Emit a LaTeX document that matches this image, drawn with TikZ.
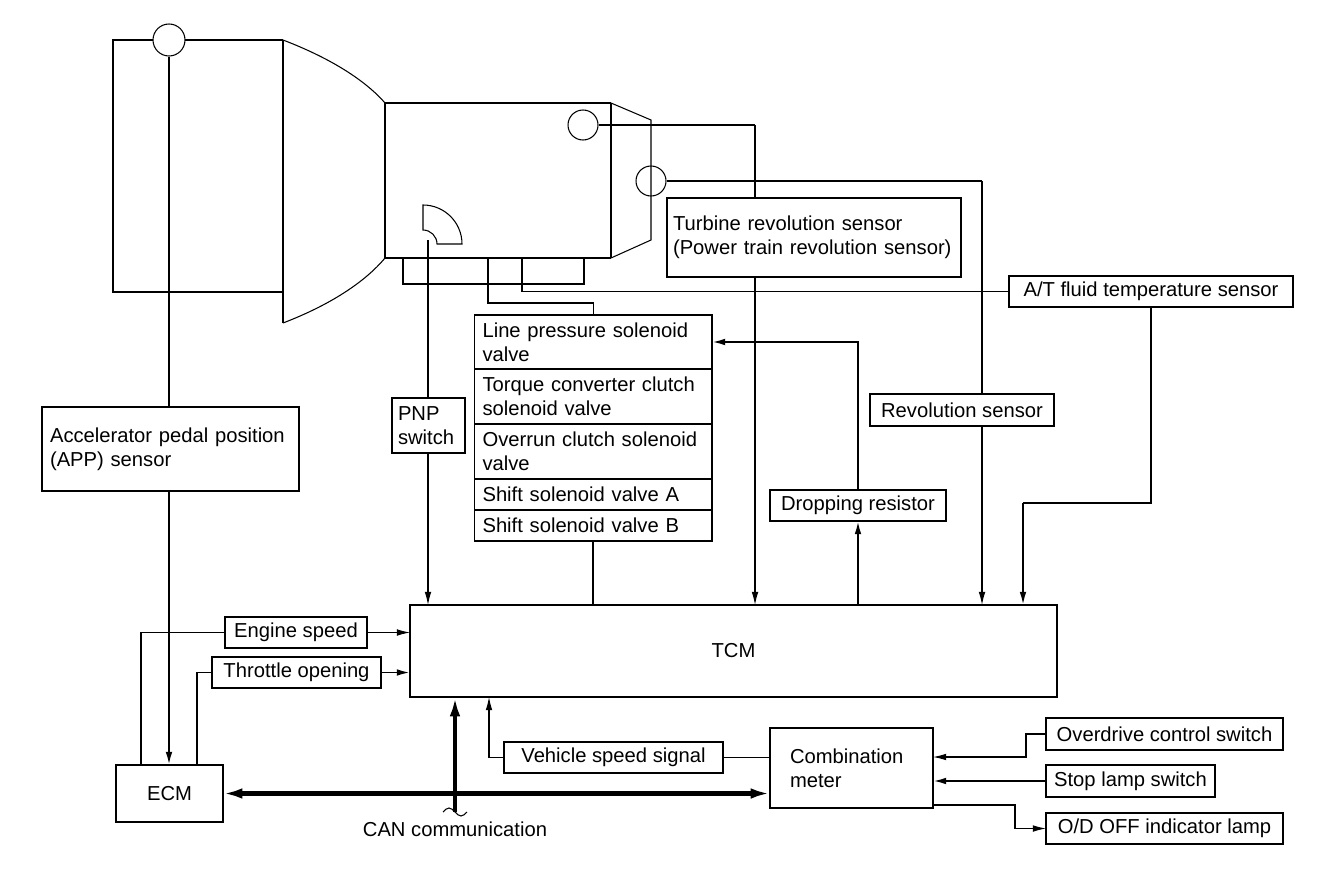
\documentclass[tikz,border=0pt]{standalone}
\usepackage{fontspec}
\setmainfont{Liberation Sans}
\usetikzlibrary{positioning,arrows.meta}
\newcommand{\txt}{\fontsize{11.5}{13.6}\selectfont}
\tikzset{
  box/.style={draw, fill=white, line width=1pt, inner xsep=0.16cm, inner ysep=0pt, outer sep=0pt, align=left},
  sens/.style={circle, draw, minimum size=0.6cm, inner sep=0pt},
  wire/.style={line width=1.1pt},
  bus/.style={line width=2.3pt},
  arr/.style={-{Latex[length=7.5pt,width=3.8pt]}},
  busarr/.style={{Latex[length=11pt,width=6pt]}-{Latex[length=11pt,width=6pt]}},
}
\begin{document}
\begin{tikzpicture}[x=0.02cm,y=-0.02cm,line width=0.6pt,font=\txt]
\useasboundingbox (0,0) rectangle (1344,882);
% engine and transmission
\draw[wire] (283,40) -| (113,292) -- (283,292);
\draw (283,40) -- (283,323);
\draw (283,40) .. controls (330,58) and (365,80) .. (385,103);
\draw (385,258) .. controls (365,282) and (330,305) .. (283,323);
\draw[wire] (385,103) -- (611,103) (385,258) -- (611,258);
\draw (385,103) -- (385,258) (611,103) -- (611,258);
\draw (611,103) -- (651,120) -- (651,240) -- (611,258);
\draw[line width=0.8pt] (403,258) rectangle (584,284);
\draw (423,205) arc[start angle=90,end angle=0,radius=0.78cm] -- (437,244)
      arc[start angle=0,end angle=90,radius=0.28cm] -- cycle;
\node[sens, fill=white, minimum size=0.64cm] (c0) at (169,40) {};
\node[sens] (c1) at (583,125) {};
\node[sens] (c2) at (651,181) {};
\coordinate (pnps) at (428,240);
\coordinate (ct1) at (488,258);
\coordinate (ct2) at (522,258);
\coordinate (tr) at (755,125);
\coordinate (rv) at (982,181);

% boxes
\node[box, minimum width=5.14cm, minimum height=1.68cm, text width=4.82cm] (app) at (170.5,449)
  {Accelerator pedal position\\(APP) sensor};
\node[box, inner xsep=0.12cm, minimum width=1.46cm, minimum height=1.1cm, text width=1.22cm] (pnp) at (428.5,425.5)
  {PNP\\switch};
\node[box, minimum width=4.75cm, minimum height=1.08cm, text width=4.43cm] (lp) at (593.25,342)
  {Line pressure solenoid\\valve};
\node[box, minimum width=4.75cm, minimum height=1.1cm, text width=4.43cm, below=0pt of lp] (tc)
  {Torque converter clutch\\solenoid valve};
\node[box, minimum width=4.75cm, minimum height=1.1cm, text width=4.43cm, below=0pt of tc] (oc)
  {Overrun clutch solenoid\\valve};
\node[box, minimum width=4.75cm, minimum height=0.62cm, text width=4.43cm, below=0pt of oc] (sa)
  {Shift solenoid valve A};
\node[box, minimum width=4.75cm, minimum height=0.62cm, text width=4.43cm, below=0pt of sa] (sb)
  {Shift solenoid valve B};
\node[box, inner xsep=0.12cm, minimum width=5.88cm, minimum height=1.58cm, text width=5.64cm] (turb) at (814,237.5)
  {Turbine revolution sensor\\(Power train revolution sensor)};
\node[box, minimum width=5.68cm, minimum height=0.62cm] (atf) at (1151,291.5) {A/T fluid temperature sensor};
\node[box, minimum width=3.68cm, minimum height=0.64cm] (rev) at (962,410) {Revolution sensor};
\node[box, minimum width=3.52cm, minimum height=0.62cm] (drp) at (858,505.5) {Dropping resistor};
\node[box, minimum width=12.94cm, minimum height=1.84cm] (tcm) at (733.5,651) {TCM};
\node[box, minimum width=2.84cm, minimum height=0.62cm] (es) at (296,632.5) {Engine speed};
\node[box, minimum width=3.38cm, minimum height=0.62cm] (th) at (296.5,672.5) {Throttle opening};
\node[box, minimum width=2.14cm, minimum height=1.14cm] (ecm) at (169.5,793.5) {ECM};
\node[box, minimum width=4.38cm, minimum height=0.62cm] (vs) at (613.5,757.5) {Vehicle speed signal};
\node[box, inner xsep=0.4cm, minimum width=3.26cm, minimum height=1.6cm, text width=2.46cm] (cm) at (851.5,768)
  {Combination\\meter};
\node[box, minimum width=4.74cm, minimum height=0.64cm, anchor=west] (od) at (1046,734) {Overdrive control switch};
\node[box, minimum width=3.38cm, minimum height=0.64cm, anchor=west] (sl) at (1046,781) {Stop lamp switch};
\node[box, minimum width=4.74cm, minimum height=0.62cm, anchor=west] (odl) at (1046,828.5) {O/D OFF indicator lamp};
\node (can) at (455,829) {CAN communication};

% sensor lines
\draw[wire] (c0.south) -- (c0.south |- app.north);
\draw[wire,arr] (c0 |- app.south) -- (c0 |- ecm.north);
\draw (pnps) -- (pnps |- pnp.north);
\draw[arr] (pnps |- pnp.south) -- (pnps |- tcm.north);
\draw[wire] (c1) -- (tr);
\draw (tr) -- (tr |- turb.north);
\draw[arr] (tr |- turb.south) -- (tr |- tcm.north);
\draw[wire] (c2) -- (rv);
\draw (rv) -- (rv |- rev.north);
\draw[arr] (rv |- rev.south) -- (rv |- tcm.north);
\draw (ct1) -- ++(0,45) -| (lp.north);
\draw (ct2) |- (atf.west);
\coordinate (atin) at (1023,503);
\draw (atf.south) |- (atin);
\draw[wire,arr] (atin) -- (atin |- tcm.north);
\draw[wire] (sb.south) -- (sb.south |- tcm.north);
\draw[wire,arr] (drp.south |- tcm.north) -- (drp.south);
\draw[wire,arr] (drp.north) |- (lp.east);

% ECM signals
\coordinate (ecma) at (141,765);
\coordinate (ecmb) at (197,765);
\draw (ecma) |- (es.west);
\draw[arr] (es.east) -- (es.east -| tcm.west);
\draw (ecmb) |- (th.west);
\draw[wire,arr] (th.east) -- (th.east -| tcm.west);

% CAN
\draw[bus,busarr] (ecm.east) -- (ecm.east -| cm.west);
\coordinate (canb) at (455,812);
\draw[bus,-{Latex[length=11pt,width=6pt]}] (canb) -- (canb |- tcm.south);
\draw (443,812) sin (449,808) cos (455,812) sin (461,816) cos (467,812);

% combination meter
\coordinate (vsup) at (489,757);
\draw (vs.east) -- (vs.east -| cm.west);
\draw[arr] (vs.west) -| (vsup |- tcm.south);
\coordinate (odk) at (1026,757);
\draw[arr] (od.west) -| (odk) -- (odk -| cm.east);
\draw[wire,arr] (sl.west) -- (sl.west -| cm.east);
\coordinate (odo) at (1015,805);
\draw[arr] (odo -| cm.east) -- (odo) |- (odl.west);
\end{tikzpicture}
\end{document}
